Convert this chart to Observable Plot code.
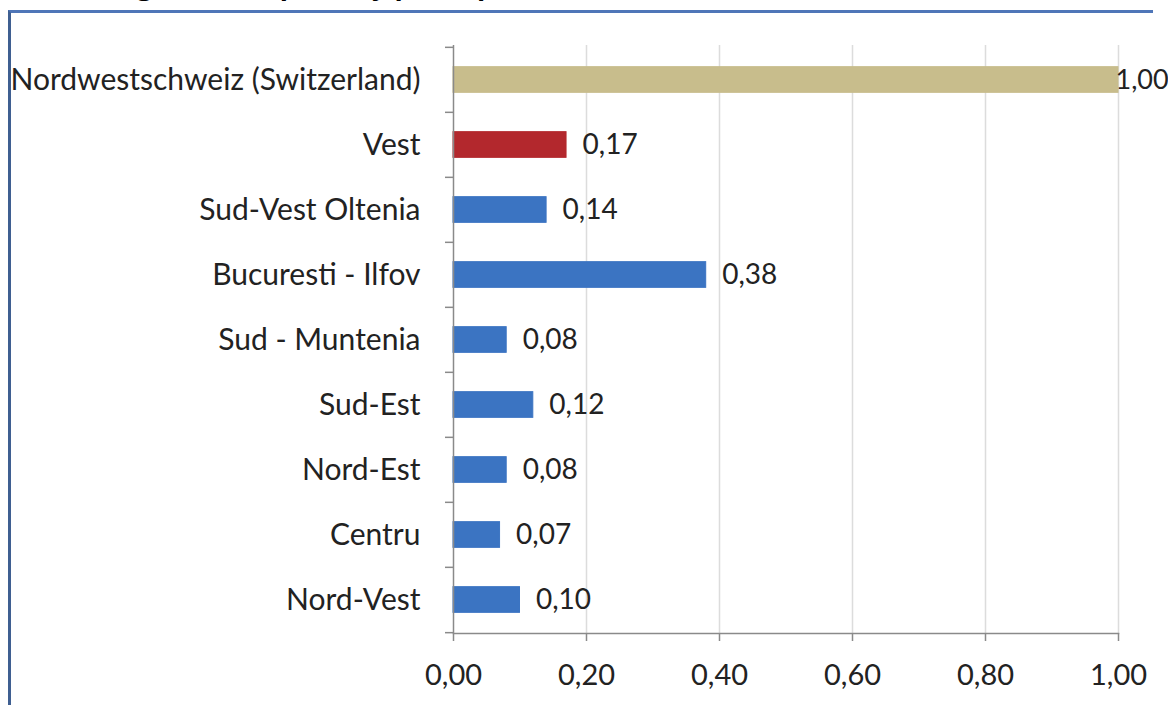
<!DOCTYPE html>
<html>
<head>
<meta charset="utf-8">
<script src="https://cdn.jsdelivr.net/npm/d3@7"></script>
<script src="https://cdn.jsdelivr.net/npm/@observablehq/plot@0.6"></script>
<style>
  html, body { margin: 0; padding: 0; background: #ffffff; }
  #wrap { position: relative; width: 1168px; height: 705px; overflow: hidden; }
  #title { position: absolute; left: 0; width: 980px; top: -34px; text-align: center;
           font: bold 27px "Open Sans", sans-serif; color: #000; white-space: nowrap; }
  #frame { position: absolute; left: 8px; top: 10px; width: 1142px; height: 700px;
           border-top: 3px solid #4f76b8; border-left: 3px solid #3f5f91; pointer-events: none; }
  #chart { position: absolute; left: 0; top: 0; }
</style>
</head>
<body>
<div id="wrap">
  <div id="title">Regions' competency per capita (Nordwestschweiz = 1,00)</div>
  <div id="frame"></div>
  <div id="chart"></div>
</div>
<script>
const regions = ["Nordwestschweiz (Switzerland)", "Vest", "Sud-Vest Oltenia", "Bucuresti - Ilfov",
                 "Sud - Muntenia", "Sud-Est", "Nord-Est", "Centru", "Nord-Vest"];
const values = [1.00, 0.17, 0.14, 0.38, 0.08, 0.12, 0.08, 0.07, 0.10];
const groups = ["Switzerland", "Vest", "Romania", "Romania", "Romania", "Romania", "Romania", "Romania", "Romania"];
const xTicks = [0, 0.2, 0.4, 0.6, 0.8, 1.0];

const data = regions.map((r, i) => ({region: r, value: values[i], group: groups[i]}));
const fmt = v => d3.format(".2f")(v).replace(".", ",");

const W = 1168, H = 705, mt = 45, mb = 72, ml = 453, mr = 50;
const step = (H - mt - mb) / regions.length;
const barH = 26;
const inset = (step - barH) / 2;
const tickLen = 8 / (W - ml - mr);
const font = "Lato, 'Open Sans', sans-serif";

const chart = Plot.plot({
  width: W, height: H,
  marginTop: mt, marginBottom: mb, marginLeft: ml, marginRight: mr,
  style: {fontFamily: font, fontSize: "28px", color: "#222", background: "transparent"},
  x: {domain: [0, 1]},
  y: {domain: regions, padding: 0},
  color: {domain: ["Switzerland", "Vest", "Romania"], range: ["#c8bd8c", "#b3282d", "#3b74c2"]},
  marks: [
    Plot.gridX({ticks: xTicks.slice(1), stroke: "#dcdcdc", strokeOpacity: 1, strokeWidth: 1.5}),
    Plot.barX(data, {x: "value", y: "region", fill: "group", insetTop: inset, insetBottom: inset,
                     stroke: "group", strokeWidth: 1}),
    Plot.ruleX([0], {stroke: "#8a8a8a", strokeWidth: 1.5}),
    Plot.frame({anchor: "bottom", stroke: "#8a8a8a", strokeWidth: 1.5}),
    Plot.ruleY(regions, {y: d => d, x1: -tickLen, x2: 0, dy: -step / 2, stroke: "#8a8a8a", strokeWidth: 1.5}),
    Plot.ruleY(regions.slice(-1), {y: d => d, x1: -tickLen, x2: 0, dy: step / 2, stroke: "#8a8a8a", strokeWidth: 1.5}),
    Plot.axisY({tickSize: 0, tickPadding: 33, fontSize: 30, label: null}),
    Plot.axisX({ticks: xTicks, tickSize: 8, tickPadding: 23, tickFormat: fmt, fontSize: 29, label: null,
                stroke: "#8a8a8a", strokeWidth: 1.5}),
    Plot.text(data.filter(d => d.value < 1), {x: "value", y: "region", text: d => fmt(d.value),
                     textAnchor: "start", dx: 16, fontSize: 28, fill: "#222"}),
    Plot.text(data.filter(d => d.value >= 1), {x: "value", y: "region", text: d => fmt(d.value),
                     textAnchor: "start", dx: -3, fontSize: 27, fill: "#222"})
  ]
});
document.getElementById("chart").appendChild(chart);
</script>
</body>
</html>
